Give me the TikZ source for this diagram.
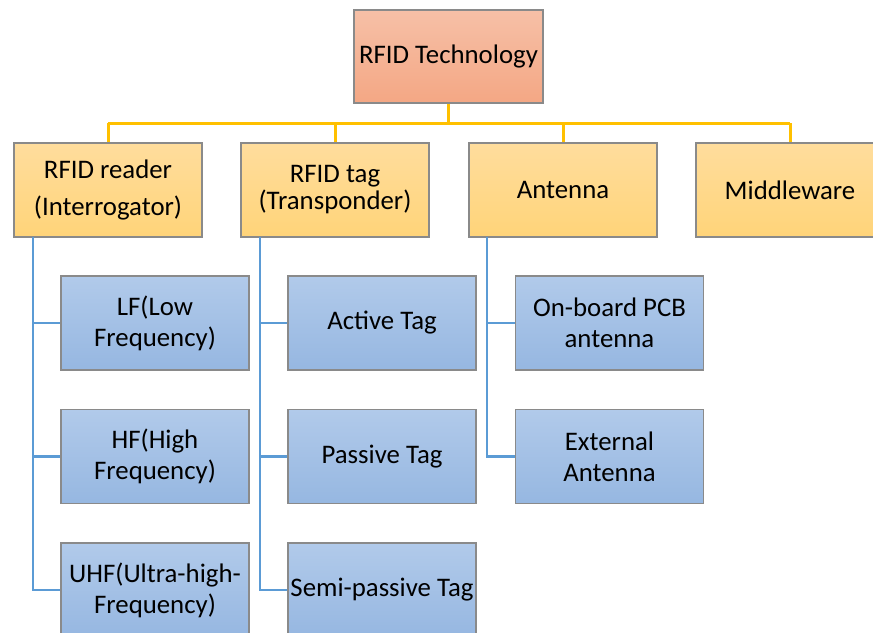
\documentclass[tikz,border=0pt]{standalone}
\usepackage{fontspec}
\setmainfont{Carlito}
\begin{document}
\begin{tikzpicture}[x=1pt,y=-1pt,
  box/.style={draw=boxedge, line width=1.5pt, minimum width=188pt, minimum height=94pt,
    inner sep=0pt, align=center, font=\fontsize{26.8}{31}\selectfont, text=black},
  rootbox/.style={box, minimum width=189pt, minimum height=93pt, top color=rootTop, bottom color=rootBot},
  midbox/.style={box, top color=midTop, bottom color=midBot},
  leafbox/.style={box, top color=leafTop, bottom color=leafBot},
  bus/.style={draw=busYellow, line width=3pt},
  branch/.style={draw=branchBlue, line width=2.8pt}]
\definecolor{boxedge}{HTML}{8A8A8A}
\definecolor{rootTop}{HTML}{F6C0A7}
\definecolor{rootBot}{HTML}{F4A784}
\definecolor{midTop}{HTML}{FFDD9D}
\definecolor{midBot}{HTML}{FFD479}
\definecolor{leafTop}{HTML}{B1CAEA}
\definecolor{leafBot}{HTML}{96B7E1}
\definecolor{busYellow}{HTML}{FFC000}
\definecolor{branchBlue}{HTML}{5B9BD5}

\useasboundingbox (0,0) rectangle (873,632);
\fill[white] (0,0) rectangle (873,632);
\clip (0,0) rectangle (873,632);

% yellow bus from the root to the second level
\coordinate (busL) at (108,123);
\coordinate (busR) at (790,123);
\coordinate (rootFoot) at (448.5,103);
\draw[bus] (rootFoot) -- (rootFoot |- busL);
\draw[bus] (busL) -- (busR);

% root
\node[rootbox] (root) at (448.5,56.5) {RFID Technology};

% second level
\node[midbox] (reader) at (108,190) {RFID reader\\[6pt](Interrogator)};
\node[midbox] (tag)    at (335,190) {RFID tag\\[-4pt](Transponder)};
\node[midbox] (ant)    at (563,190) {Antenna};
\node[midbox] (mid)    at (790,190) {Middleware};

% third level: reader
\node[leafbox] (lf)  at (155,323)   {LF(Low\\Frequency)};
\node[leafbox] (hf)  at (155,456.5) {HF(High\\Frequency)};
\node[leafbox] (uhf) at (155,590)   {UHF(Ultra-high-\\Frequency)};

% third level: tag
\node[leafbox] (active)  at (382,323)   {Active Tag};
\node[leafbox] (passive) at (382,456.5) {Passive Tag};
\node[leafbox] (semi)    at (382,590)   {Semi-passive Tag};

% third level: antenna
\node[leafbox] (pcb) at (609.5,323)   {On-board PCB\\antenna};
\node[leafbox] (ext) at (609.5,456.5) {External\\Antenna};

% drops from the bus into each second-level box
\draw[bus] (reader.north |- busL) -- (reader.north);
\draw[bus] (tag.north |- busL) -- (tag.north);
\draw[bus] (ant.north |- busL) -- (ant.north);
\draw[bus] (mid.north |- busL) -- (mid.north);
\draw[bus] (root.south) -- (rootFoot |- busL);

% blue branches to the third level
\coordinate (trR) at (33,237);
\coordinate (trT) at (260,237);
\coordinate (trA) at (487,237);
\draw[branch] (trR) |- (uhf.west);
\draw[branch] (trR |- lf.west) -- (lf.west);
\draw[branch] (trR |- hf.west) -- (hf.west);
\draw[branch] (trT) |- (semi.west);
\draw[branch] (trT |- active.west) -- (active.west);
\draw[branch] (trT |- passive.west) -- (passive.west);
\draw[branch] (trA) |- (ext.west);
\draw[branch] (trA |- pcb.west) -- (pcb.west);
\end{tikzpicture}
\end{document}
